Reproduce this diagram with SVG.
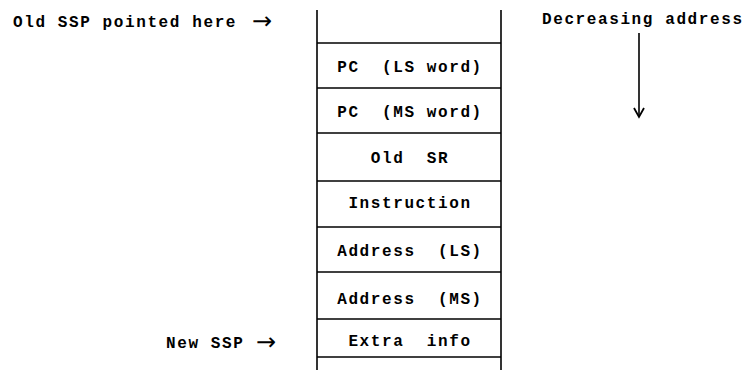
<svg xmlns="http://www.w3.org/2000/svg" width="749" height="371" viewBox="0 0 749 371">
<style>
  text { font-family: "Liberation Mono", "DejaVu Sans Mono", monospace; font-size: 16px; font-weight: bold; fill: #000; letter-spacing: 1.6px; white-space: pre; }
  .c { text-anchor: middle; }
  .arr { font-family: "DejaVu Sans", sans-serif; font-size: 24px; font-weight: normal; letter-spacing: 0; }
  .ln { stroke: #000; stroke-width: 1.6; fill: none; }
</style>
<defs>
  <marker id="ah" markerWidth="12" markerHeight="12" refX="10" refY="6" orient="auto" markerUnits="userSpaceOnUse">
    <path d="M1,1 L10,6 L1,11" fill="none" stroke="#000" stroke-width="1.8"/>
  </marker>
</defs>
<rect width="749" height="371" fill="#fff"/>
<g id="stack">
  <line class="ln" x1="317" y1="10" x2="317" y2="370"/>
  <line class="ln" x1="501" y1="10" x2="501" y2="370"/>
  <line class="ln" x1="317" y1="43" x2="501" y2="43"/>
  <line class="ln" x1="317" y1="88" x2="501" y2="88"/>
  <line class="ln" x1="317" y1="133" x2="501" y2="133"/>
  <line class="ln" x1="317" y1="181" x2="501" y2="181"/>
  <line class="ln" x1="317" y1="227" x2="501" y2="227"/>
  <line class="ln" x1="317" y1="272" x2="501" y2="272"/>
  <line class="ln" x1="317" y1="319" x2="501" y2="319"/>
  <line class="ln" x1="317" y1="357" x2="501" y2="357"/>
</g>
<g id="row-pc-ls"><text class="c" x="410" y="72">PC  (LS word)</text></g>
<g id="row-pc-ms"><text class="c" x="410" y="117">PC  (MS word)</text></g>
<g id="row-old-sr"><text class="c" x="410" y="163">Old  SR</text></g>
<g id="row-instruction"><text class="c" x="410" y="208">Instruction</text></g>
<g id="row-addr-ls"><text class="c" x="410" y="256">Address  (LS)</text></g>
<g id="row-addr-ms"><text class="c" x="410" y="304">Address  (MS)</text></g>
<g id="row-extra"><text class="c" x="410" y="346">Extra  info</text></g>
<g id="label-old-ssp"><text x="13" y="27">Old SSP pointed here <tspan class="arr" x="252" y="29">→</tspan></text></g>
<g id="label-new-ssp"><text x="166" y="348">New SSP <tspan class="arr" x="256" y="350">→</tspan></text></g>
<g id="label-decreasing"><text x="542" y="24">Decreasing address</text></g>
<g id="connectors">
  <line class="ln" x1="639" y1="33" x2="639" y2="117" marker-end="url(#ah)"/>
</g>
</svg>
